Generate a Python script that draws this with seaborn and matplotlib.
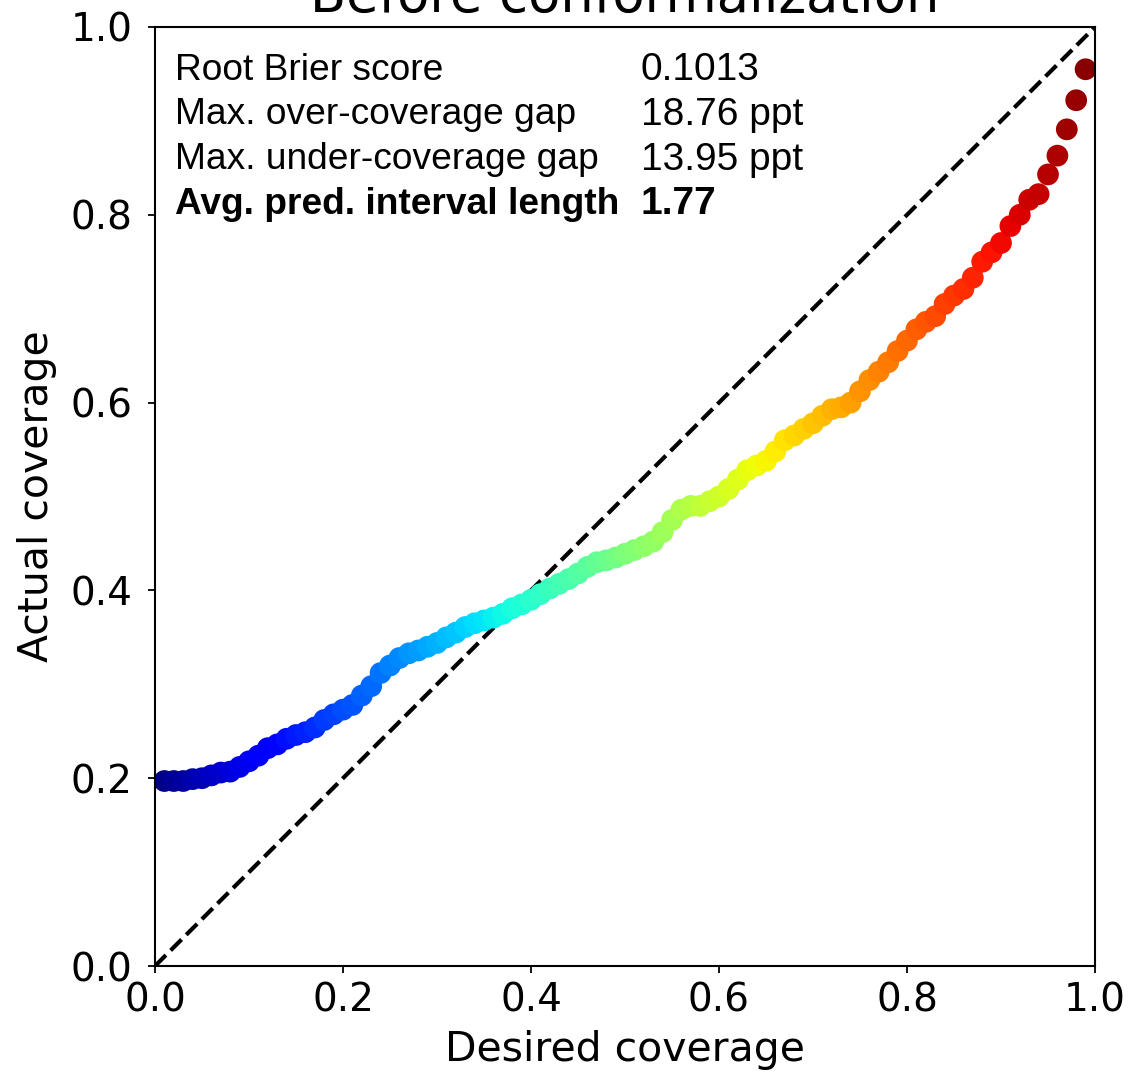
import numpy as np
import pandas as pd
import matplotlib
matplotlib.use("Agg")
import matplotlib.pyplot as plt
import seaborn as sns

# ---- data ----
desired = [round(0.01 * i, 2) for i in range(1, 100)]
actual = [
    0.197, 0.197, 0.197, 0.199, 0.200, 0.203, 0.206, 0.207, 0.212, 0.218,
    0.224, 0.232, 0.236, 0.242, 0.246, 0.249, 0.254, 0.262, 0.268, 0.273,
    0.278, 0.288, 0.298, 0.312, 0.320, 0.328, 0.333, 0.336, 0.340, 0.344,
    0.350, 0.355, 0.361, 0.365, 0.368, 0.371, 0.375, 0.381, 0.385, 0.390,
    0.396, 0.402, 0.407, 0.412, 0.418, 0.425, 0.430, 0.432, 0.435, 0.439,
    0.443, 0.447, 0.452, 0.462, 0.475, 0.486, 0.490, 0.490, 0.495, 0.500,
    0.508, 0.518, 0.528, 0.533, 0.538, 0.548, 0.560, 0.565, 0.572, 0.578,
    0.586, 0.593, 0.595, 0.600, 0.612, 0.624, 0.633, 0.643, 0.655, 0.666,
    0.678, 0.686, 0.692, 0.705, 0.714, 0.721, 0.733, 0.750, 0.760, 0.770,
    0.788, 0.800, 0.816, 0.822, 0.843, 0.863, 0.891, 0.922, 0.955,
]
ticks = [0.0, 0.2, 0.4, 0.6, 0.8, 1.0]
tick_labels = ["0.0", "0.2", "0.4", "0.6", "0.8", "1.0"]
metric_names = ["Root Brier score", "Max. over-coverage gap",
                "Max. under-coverage gap", "Avg. pred. interval length"]
metric_values = ["0.1013", "18.76 ppt", "13.95 ppt", "1.77"]
metric_bold = [False, False, False, True]

df = pd.DataFrame({"desired": desired, "actual": actual})

sns.set_theme(style="white")
plt.rcParams["font.family"] = ["DejaVu Sans"]

fig = plt.figure(figsize=(11.32, 10.79), dpi=100)
ax = fig.add_axes([155 / 1132, 113 / 1079, 940 / 1132, 939 / 1079])

ax.plot([0, 1], [0, 1], linestyle="--", color="black", linewidth=3, zorder=1)
sns.scatterplot(data=df, x="desired", y="actual", hue="desired",
                palette=matplotlib.colormaps["jet"], hue_norm=(0, 1),
                s=245, linewidth=0, legend=False, ax=ax, zorder=2)

ax.set_xlim(0, 1)
ax.set_ylim(0, 1)
ax.set_xticks(ticks)
ax.set_xticklabels(tick_labels)
ax.set_yticks(ticks)
ax.set_yticklabels(tick_labels)
ax.tick_params(axis="both", direction="out", length=5, width=1.3,
               color="black", labelsize=28, labelcolor="black",
               bottom=True, left=True)
ax.tick_params(axis="x", pad=6)
ax.tick_params(axis="y", pad=11)
for sp in ax.spines.values():
    sp.set_color("black")
    sp.set_linewidth(1.5)

ax.set_xlabel("Desired coverage", fontsize=29.5, color="black", labelpad=8)
ax.set_ylabel("Actual coverage", fontsize=29.5, color="black", labelpad=10)
ax.set_title("Before conformalization", fontsize=38, color="black", pad=11)

y0 = 0.954
dy = 0.0476
for i, (n, v, b) in enumerate(zip(metric_names, metric_values, metric_bold)):
    w = "bold" if b else "normal"
    ax.text(0.021, y0 - i * dy, n, transform=ax.transAxes, va="center",
            ha="left", fontsize=26.7, family=["Liberation Sans"],
            fontweight=w, color="black")
    ax.text(0.517, y0 - i * dy, v, transform=ax.transAxes, va="center",
            ha="left", fontsize=28, family=["Liberation Sans"],
            fontweight=w, color="black")

fig.savefig("out.png", dpi=100, facecolor="white")
